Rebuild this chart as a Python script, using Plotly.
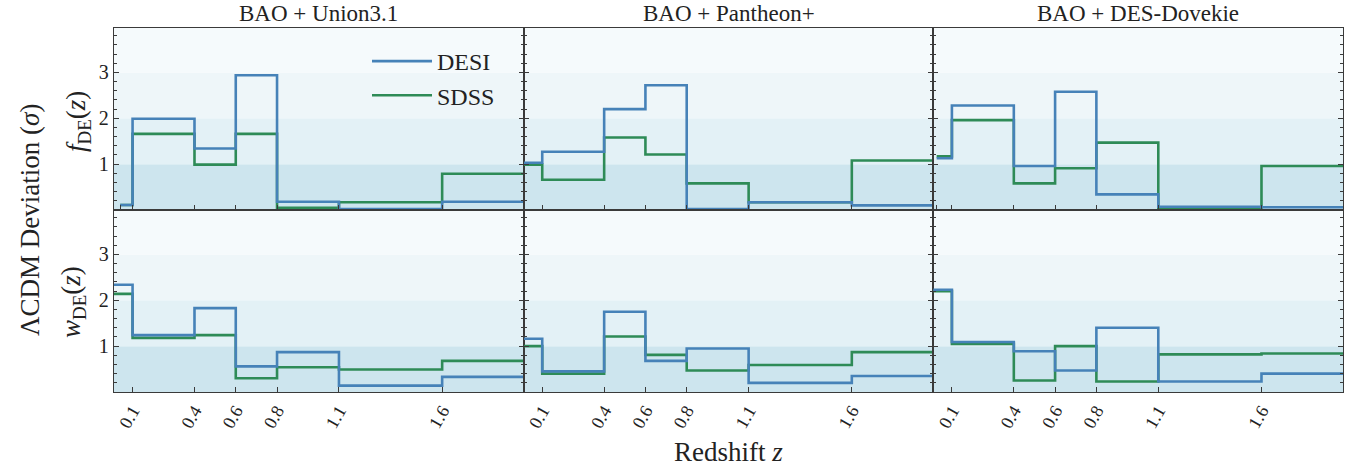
import plotly.graph_objects as go
from plotly.subplots import make_subplots

# ---------------- data ----------------
columns = ["BAO + Union3.1", "BAO + Pantheon+", "BAO + DES-Dovekie"]
row_labels = ["<i>f</i><sub>DE</sub>(<i>z</i>)", "<i>w</i><sub>DE</sub>(<i>z</i>)"]

# common bin edges (after first edge) ; first edge depends on panel
z_edges = [0.1, 0.4, 0.6, 0.8, 1.1, 1.6, 2.0]
z_start_f = [0.04, 0.01, 0.026]   # f_DE row starts at lowest SN redshift
z_start_w = [0.0, 0.0, 0.0]

tick_vals = [0.1, 0.4, 0.6, 0.8, 1.1, 1.6]
tick_text = ["0.1", "0.4", "0.6", "0.8", "1.1", "1.6"]

# f_DE deviations (sigma) per bin
f_desi = [
    [0.11, 1.99, 1.34, 2.94, 0.18, 0.02, 0.18],
    [1.03, 1.27, 2.20, 2.72, 0.02, 0.17, 0.10],
    [1.13, 2.28, 0.96, 2.58, 0.34, 0.07, 0.06],
]
f_sdss = [
    [0.11, 1.66, 0.99, 1.66, 0.05, 0.17, 0.79],
    [0.99, 0.66, 1.58, 1.21, 0.58, 0.17, 1.08],
    [1.17, 1.96, 0.58, 0.91, 1.47, 0.03, 0.96],
]
# w_DE deviations (sigma) per bin
w_desi = [
    [2.34, 1.24, 1.83, 0.56, 0.87, 0.14, 0.33],
    [1.16, 0.45, 1.75, 0.68, 0.95, 0.20, 0.35],
    [2.23, 1.09, 0.89, 0.47, 1.40, 0.23, 0.40],
]
w_sdss = [
    [2.14, 1.18, 1.24, 0.30, 0.54, 0.49, 0.68],
    [1.00, 0.40, 1.21, 0.81, 0.47, 0.59, 0.87],
    [2.20, 1.05, 0.25, 1.00, 0.23, 0.82, 0.84],
]

band_edges = [0, 1, 2, 3, 4]
band_colors = ["#cde5ee", "#e3f1f6", "#eef6f9", "#f5fafc"]

DESI_COLOR = "#4682b8"
SDSS_COLOR = "#2e8b57"
FONT = "'Liberation Serif', 'DejaVu Serif', serif"

# ---------------- figure ----------------
fig = make_subplots(rows=2, cols=3, horizontal_spacing=0, vertical_spacing=0,
                    shared_xaxes=True, shared_yaxes=True)


def step_xy(start, edges, vals):
    xs = [start] + edges[:-1] + [edges[-1]]
    ys = list(vals) + [vals[-1]]
    return xs, ys


for c in range(3):
    for r, (desi, sdss, starts) in enumerate([(f_desi, f_sdss, z_start_f),
                                              (w_desi, w_sdss, z_start_w)]):
        for name, data, col in [("SDSS", sdss, SDSS_COLOR), ("DESI", desi, DESI_COLOR)]:
            xs, ys = step_xy(starts[c], z_edges, data[c])
            fig.add_trace(go.Scatter(
                x=xs, y=ys, mode="lines", line=dict(color=col, width=2.6, shape="hv"),
                name=name, showlegend=(r == 0 and c == 0), legendrank=(1 if name == "DESI" else 2),
                legendgroup=name, hoverinfo="skip"), row=r + 1, col=c + 1)
        # bands
        for b in range(4):
            fig.add_hrect(y0=band_edges[b], y1=band_edges[b + 1], fillcolor=band_colors[b],
                          line_width=0, layer="below", row=r + 1, col=c + 1)

AX = "#3a3a3a"
for r in range(2):
    for c in range(3):
        starts = z_start_f if r == 0 else z_start_w
        tv = tick_vals[:] if r == 1 else [starts[c]] + tick_vals
        tt = tick_text[:] if r == 1 else [""] + tick_text
        fig.update_xaxes(range=[0.01, 1.995], tickmode="array", tickvals=tv, ticktext=tt,
                         ticks="inside", ticklen=5, tickwidth=1.2, tickcolor=AX,
                         showline=True, linecolor=AX, linewidth=1.3, mirror=True,
                         showgrid=False, zeroline=False, tickangle=-60,
                         showticklabels=(r == 1),
                         tickfont=dict(family=FONT, size=18, color="#222"),
                         row=r + 1, col=c + 1)
        fig.update_yaxes(range=[0.0, 3.97], tickvals=[1, 2, 3], ticktext=["1", "2", "3"],
                         ticks="inside", ticklen=5, tickwidth=1.2, tickcolor=AX,
                         minor=dict(dtick=0.2, tick0=0, ticks="inside", ticklen=3,
                                    tickwidth=1, tickcolor=AX),
                         showline=True, linecolor=AX, linewidth=1.3, mirror="allticks",
                         showgrid=False, zeroline=False,
                         showticklabels=(c == 0),
                         tickfont=dict(family=FONT, size=20, color="#222"),
                         row=r + 1, col=c + 1)

W, H = 1359, 470
ml, mr, mt, mb = 114, 16, 28, 78
pw, ph = W - ml - mr, H - mt - mb

annotations = []
for c, t in enumerate(columns):
    annotations.append(dict(text=t, x=(c + 0.5) / 3, y=1 + (mt - 14) / ph, xref="paper", yref="paper",
                            showarrow=False, xanchor="center", yanchor="middle",
                            font=dict(family=FONT, size=23, color="#222")))
annotations.append(dict(text=row_labels[0], x=-(ml - 78) / pw, y=1 - (122 - mt) / ph,
                        xref="paper", yref="paper",
                        showarrow=False, textangle=-90, xanchor="center", yanchor="middle",
                        font=dict(family=FONT, size=27, color="#222")))
annotations.append(dict(text=row_labels[1], x=-(ml - 73) / pw, y=1 - (302 - mt) / ph,
                        xref="paper", yref="paper",
                        showarrow=False, textangle=-90, xanchor="center", yanchor="middle",
                        font=dict(family=FONT, size=27, color="#222")))
annotations.append(dict(text="ΛCDM Deviation (<i>σ</i>)", x=-(ml - 30) / pw, y=1 - (220 - mt) / ph,
                        xref="paper", yref="paper", showarrow=False, textangle=-90,
                        xanchor="center", yanchor="middle",
                        font=dict(family=FONT, size=27, color="#222")))
annotations.append(dict(text="Redshift <i>z</i>", x=0.5, y=-(452 - (H - mb)) / ph,
                        xref="paper", yref="paper", showarrow=False,
                        xanchor="center", yanchor="middle",
                        font=dict(family=FONT, size=27, color="#222")))

fig.update_layout(
    width=W, height=H,
    margin=dict(l=ml, r=mr, t=mt, b=mb),
    paper_bgcolor="white", plot_bgcolor="white",
    font=dict(family=FONT),
    annotations=annotations,
    showlegend=True,
    legend=dict(x=(367 - ml) / pw, y=1 - (39 - mt) / ph, xanchor="left", yanchor="top",
                bgcolor="rgba(0,0,0,0)", borderwidth=0, itemwidth=60,
                font=dict(family=FONT, size=24, color="#222"),
                tracegroupgap=3, traceorder="normal"),
)

fig.write_html("out.html", config={"displayModeBar": False},
               post_script="document.body.style.margin='0';document.body.style.overflow='hidden';")
